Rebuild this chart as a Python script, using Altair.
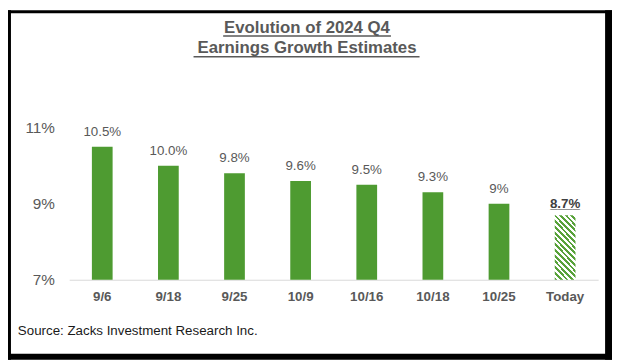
import altair as alt
import pandas as pd

# ---- data ----
dates = ["9/6", "9/18", "9/25", "10/9", "10/16", "10/18", "10/25", "Today"]
growth = [10.5, 10.0, 9.8, 9.6, 9.5, 9.3, 9.0, 8.7]
value_labels = ["10.5%", "10.0%", "9.8%", "9.6%", "9.5%", "9.3%", "9%", "8.7%"]
kind = ["past"] * 7 + ["today"]
y_ticks = [7, 9, 11]
title_lines = ["Evolution of 2024 Q4", " Earnings Growth Estimates"]
source_text = "Source: Zacks Investment Research Inc."

df = pd.DataFrame({"date": dates, "growth": growth, "label": value_labels, "kind": kind})
one = pd.DataFrame({"k": [0]})

GREEN = "#4e9b31"
HATCH_GREEN = "#58a23a"
GRAY = "#595959"
FONT = "Liberation Sans"

# diagonal hatch emulated with a hard-stop linear gradient
N = 15
stops = []
for i in range(N):
    a = i / N
    b = (i + 0.5) / N
    c = (i + 1) / N
    stops += [
        alt.GradientStop(offset=a, color=HATCH_GREEN),
        alt.GradientStop(offset=b, color=HATCH_GREEN),
        alt.GradientStop(offset=b, color="#ffffff"),
        alt.GradientStop(offset=c, color="#ffffff"),
    ]
hatch = alt.LinearGradient(gradient="linear", stops=stops, x1=0, y1=1, x2=0.4, y2=-0.2)

x_enc = alt.X(
    "date:N",
    sort=dates,
    scale=alt.Scale(paddingInner=0.6866, paddingOuter=0.3433),
    axis=alt.Axis(
        title=None, labelAngle=0, labelFont=FONT, labelFontSize=13.5,
        labelFontWeight="bold", labelColor=GRAY, ticks=False, tickSize=0,
        labelPadding=10, domainColor="#d9d9d9", domainWidth=1, grid=False,
    ),
)
y_enc = alt.Y(
    "growth:Q",
    scale=alt.Scale(domain=[7, 11], nice=False, zero=False),
    axis=alt.Axis(
        title=None, values=y_ticks, labelExpr="datum.value + '%'",
        labelFont=FONT, labelFontSize=15.5, labelColor=GRAY, ticks=False,
        tickSize=0, domain=False, grid=False, labelPadding=15,
    ),
)

base = alt.Chart(df).encode(x=x_enc, y=y_enc)

bars = base.transform_filter("datum.kind == 'past'").mark_bar(color=GREEN).encode(y2=alt.datum(7))
today_bar = base.transform_filter("datum.kind == 'today'").mark_bar(fill=hatch).encode(y2=alt.datum(7))

labels = base.transform_filter("datum.kind == 'past'").mark_text(
    font=FONT, fontSize=13.5, color=GRAY, baseline="alphabetic", dy=-11
).encode(text="label:N")
today_label = base.transform_filter("datum.kind == 'today'").mark_text(
    font=FONT, fontSize=13.5, fontWeight="bold", color="#404040", baseline="alphabetic", dy=-7
).encode(text="label:N")
today_under = base.transform_filter("datum.kind == 'today'").mark_text(
    font=FONT, fontSize=13.5, fontWeight="bold", color="#404040", baseline="alphabetic", dy=-7
).encode(text=alt.value("____"))

deco = alt.Chart(one)
t1 = deco.mark_text(font=FONT, fontSize=17, fontWeight="bold", color=GRAY, baseline="alphabetic").encode(
    x=alt.value(241), y=alt.value(-96), text=alt.value(title_lines[0]))
t2 = deco.mark_text(font=FONT, fontSize=17, fontWeight="bold", color=GRAY, baseline="alphabetic").encode(
    x=alt.value(241), y=alt.value(-76), text=alt.value(title_lines[1]))
u1 = deco.mark_rule(color=GRAY, strokeWidth=1.5).encode(
    x=alt.value(156), x2=alt.value(326), y=alt.value(-93))
u2 = deco.mark_rule(color=GRAY, strokeWidth=1.5).encode(
    x=alt.value(126), x2=alt.value(355), y=alt.value(-72))
src = deco.mark_text(font=FONT, fontSize=13.5, color="#1a1a1a", align="left", baseline="alphabetic").encode(
    x=alt.value(-52), y=alt.value(210), text=alt.value(source_text))

b_left = deco.mark_rect(color="black").encode(x=alt.value(-62), x2=alt.value(-59), y=alt.value(-119), y2=alt.value(235))
b_top = deco.mark_rect(color="black").encode(x=alt.value(-62), x2=alt.value(550), y=alt.value(-119), y2=alt.value(-116))
b_right = deco.mark_rect(color="black").encode(x=alt.value(543), x2=alt.value(550), y=alt.value(-119), y2=alt.value(235))
b_bottom = deco.mark_rect(color="black").encode(x=alt.value(-62), x2=alt.value(550), y=alt.value(229), y2=alt.value(235))

chart = alt.layer(
    bars, today_bar, labels, today_label, today_under,
    t1, t2, u1, u2, src, b_left, b_top, b_right, b_bottom,
).properties(
    width=536, height=154, autosize="none",
    padding={"left": 62, "top": 119, "right": 14, "bottom": 81},
    background="white",
).configure_view(stroke=None)

chart.save("out.html", embed_options={"renderer": "svg", "actions": False})
